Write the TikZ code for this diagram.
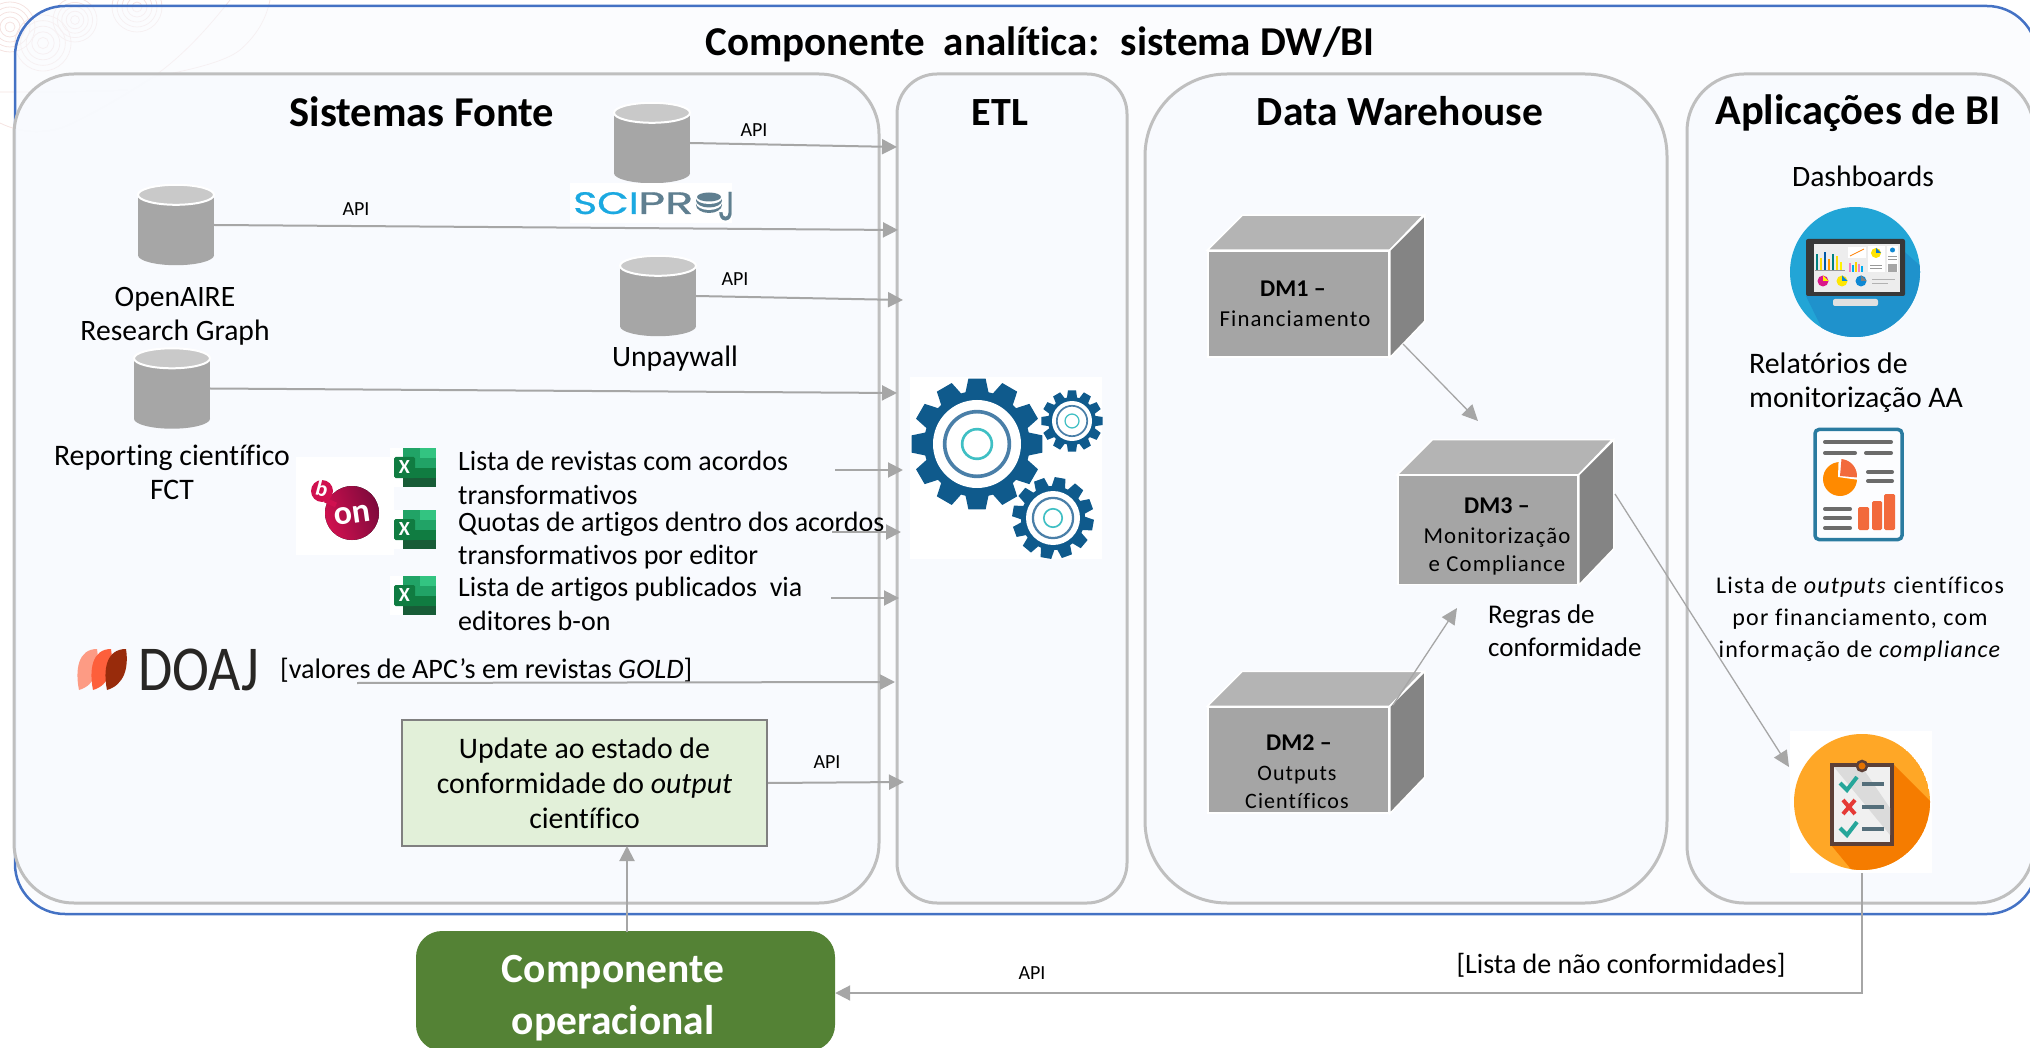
\documentclass[tikz,border=0pt]{standalone}
\usepackage{fontspec}
\setmainfont{Carlito}[Ligatures=NoCommon]
\newfontfamily\trk[LetterSpace=5,Ligatures=NoCommon]{Carlito}
\newfontfamily\scifont[FakeBold=0.7]{Poppins}
\usetikzlibrary{arrows.meta,calc}
\definecolor{panelbg}{HTML}{F8FAFE}
\definecolor{outerblue}{HTML}{4472C4}
\definecolor{panelgray}{HTML}{BFBFBF}
\definecolor{arrowgray}{HTML}{A6A6A6}
\definecolor{cylbody}{HTML}{A6A6A6}
\definecolor{cyltop}{HTML}{C9C9C9}
\definecolor{gearblue}{HTML}{0F5A8C}
\definecolor{gearring}{HTML}{4A7FA8}
\definecolor{gearteal}{HTML}{3FBFC4}
\definecolor{dmfront}{HTML}{A5A5A5}
\definecolor{dmtop}{HTML}{B4B4B4}
\definecolor{dmside}{HTML}{848484}
\definecolor{xlA}{HTML}{21A366}
\definecolor{xlB}{HTML}{33C481}
\definecolor{xlC}{HTML}{107C41}
\definecolor{xlD}{HTML}{185C37}
\definecolor{xlE}{HTML}{107C41}
\definecolor{doajA}{HTML}{FD9B84}
\definecolor{doajB}{HTML}{FD5F3B}
\definecolor{doajC}{HTML}{982B0B}
\definecolor{doajT}{HTML}{282624}
\definecolor{updategreen}{HTML}{E2F0D9}
\definecolor{compgreen}{HTML}{548235}
\definecolor{dashblue}{HTML}{22A5D6}
\definecolor{dashdark}{HTML}{1F92CC}
\definecolor{reportblue}{HTML}{2A7BA0}
\definecolor{reportred}{HTML}{F26A3C}
\definecolor{clipA}{HTML}{FFA726}
\definecolor{clipB}{HTML}{F57C00}
\definecolor{clipBr}{HTML}{5D4037}
\definecolor{clipDash}{HTML}{546E7A}
\definecolor{checkteal}{HTML}{26A69A}
\definecolor{checkred}{HTML}{E53935}
\definecolor{boncol}{HTML}{D0104F}
\definecolor{bondark}{HTML}{7E0A3C}
\definecolor{scicyan}{HTML}{1BA9E1}
\definecolor{scigray}{HTML}{5F7F90}
\definecolor{wmark}{HTML}{F5E3E1}
\newcommand\fsz[2]{\fontsize{#1}{#2}\selectfont}
\tikzset{
  panel/.style={draw=panelgray,line width=3pt,fill=panelbg,fill opacity=0.92},
  conn/.style={draw=arrowgray,line width=2pt,-{Triangle[length=15pt,width=15pt]}},
  thinconn/.style={draw=arrowgray,line width=1.3pt,-{Triangle[length=16pt,width=15pt]}},
  txt/.style={inner sep=0pt,text=black,align=center},
  ltxt/.style={inner sep=0pt,text=black,align=left,anchor=west},
  cylnode/.style={inner sep=0pt,minimum width=76pt,minimum height=80pt},
  dmface/.style={inner sep=0pt,fill=dmfront,draw=white,line width=1.5pt},
}
\newcommand\dbcyl[3]{%
  \node[cylnode] (#1) at (#2,#3) {};
  \fill[cylbody] ([yshift=-10pt]#1.north west) rectangle ([yshift=10pt]#1.south east);
  \fill[cylbody] ([yshift=10pt]#1.south) ellipse [x radius=38pt,y radius=10pt];
  \draw[white,fill=cyltop,line width=2pt] ([yshift=-10pt]#1.north) ellipse [x radius=38pt,y radius=10pt];
}
\newcommand\dmbox[5]{% name cx cy w h
  \node[dmface,minimum width=#4pt,minimum height=#5pt] (#1) at (#2,#3) {};
  \draw[white,line width=1.5pt,fill=dmtop] (#1.north west) -- ++(35,-35) -- ++(#4,0) -- (#1.north east) -- cycle;
  \draw[white,line width=1.5pt,fill=dmside] (#1.north east) -- ++(35,-35) -- ++(0,#5) -- (#1.south east) -- cycle;
}
\newcommand\gear[6]{% cx cy R root white rot
  \begin{scope}[shift={(#1,#2)}]
    \fill[gearblue] (0,0) circle (#4pt);
    \foreach \a in {0,30,...,330}{
      \fill[gearblue] (\a+#6-13:#4-1) -- (\a+#6-7.5:#3) -- (\a+#6+7.5:#3) -- (\a+#6+13:#4-1) -- cycle;
    }
    \fill[white] (0,0) circle (#5pt);
    \draw[gearring,line width={0.055*#3}] (0,0) circle ({0.49*#3});
    \draw[gearteal,line width={0.04*#3}] (0,0) circle ({0.225*#3});
  \end{scope}
}
\newcommand\xlicon[3]{% name x y(top)
  \fill[white] (#2,#3) rectangle (#2+46,#3+39);
  \fill[xlA] (#2+13,#3) rectangle (#2+46,#3+39);
  \fill[xlB] (#2+30,#3) rectangle (#2+46,#3+10);
  \fill[xlC] (#2+13,#3+20) rectangle (#2+46,#3+30);
  \fill[xlD] (#2+13,#3+30) rectangle (#2+46,#3+39);
  \fill[xlE,rounded corners=1.5pt] (#2+4,#3+9) rectangle (#2+25,#3+30);
  \node[inner sep=0pt,text=white,font=\bfseries\fsz{20}{20}] (#1) at (#2+14.5,#3+19.5) {X};
}
\newcommand\swirl[3]{%
  \foreach \r in {0.2,0.4,0.6,0.8,1}{\draw[wmark,line width=.8pt] (#1,#2) circle ({\r*#3});}
}
\begin{document}
\begin{tikzpicture}[x=1pt,y=-1pt]
\useasboundingbox (0,0) rectangle (2030,1048);
\clip (0,0) rectangle (2030,1048);
% watermark
\swirl{43}{43}{28}
\swirl{75}{20}{22}
\swirl{10}{27}{25}
\swirl{137}{7}{25}
\draw[wmark,line width=.8pt] (0,123) .. controls (22,134) and (50,135) .. (73,123) .. controls (100,110) and (130,92) .. (153,77) .. controls (180,58) and (205,32) .. (230,0);
\draw[wmark,line width=.8pt] (153,77) .. controls (190,70) and (225,62) .. (240,50) .. controls (256,36) and (266,20) .. (270,0);
\draw[wmark,line width=.8pt] (0,92) .. controls (40,92) and (90,92) .. (127,90);
% outer panel
\draw[draw=outerblue,line width=2.5pt,fill=panelbg,fill opacity=0.6,rounded corners=50pt] (15,6) rectangle (2037,914);
% panels
\draw[panel,rounded corners=60pt] (14,74) rectangle (879,903);
\draw[panel,rounded corners=40pt] (897,74) rectangle (1127,903);
\draw[panel,rounded corners=82pt] (1145,74) rectangle (1667,903);
\draw[panel,rounded corners=57pt] (1687,74) rectangle (2034,903);
% titles
\node[txt,font=\bfseries\fsz{41}{43}] (title) at (1040,44) {Componente \ analítica: \ sistema DW/BI};
\node[txt,font=\bfseries\fsz{42.5}{44}] (tfonte) at (422,112) {Sistemas Fonte};
\node[txt,font=\bfseries\fsz{40}{42}] (tetl) at (1000,113) {ETL};
\node[txt,font=\bfseries\fsz{41.5}{44}] (tdw) at (1400,111) {Data Warehouse};
\node[txt,font=\bfseries\fsz{42.5}{44}] (tbi) at (1858,113) {Aplicações de BI};
% cylinders
\dbcyl{sciproj}{652}{143}
\dbcyl{openaire}{176}{225}
\dbcyl{unpay}{658}{296}
\dbcyl{report}{172}{388.5}
% sciproj logo
\fill[white] (570,183) rectangle (732,223);
\node[inner sep=0pt,anchor=base west,text=scicyan,font=\scifont\fsz{31}{31}] (sciA) at (573,214) {\scalebox{1.32}[1]{SCI}};
\node[inner sep=0pt,anchor=base west,text=scigray,font=\scifont\fsz{31}{31}] (sciB) at (638,214) {\scalebox{1.5}[1]{PR}};
\begin{scope}
  \fill[scigray] (709,205) ellipse [x radius=13pt,y radius=8pt];
  \fill[white] (709,203) ellipse [x radius=13pt,y radius=7pt];
  \fill[scigray] (709,200.5) ellipse [x radius=13pt,y radius=7pt];
  \fill[white] (709,198) ellipse [x radius=13pt,y radius=6pt];
  \fill[scigray] (709,197) ellipse [x radius=12pt,y radius=4.5pt];
\end{scope}
\node[inner sep=0pt,anchor=base west,text=scigray,font=\scifont\fsz{31}{31}] (sciC) at (718,220) {\scalebox{1}[1.3]{J}};
% labels
\node[txt,font=\fsz{29.6}{34}] (lopen) at (175,316.5) {OpenAIRE\\Research Graph};
\node[txt,font=\fsz{29.6}{34}] (lunp) at (675,359) {Unpaywall};
\node[txt,font=\fsz{29.8}{34}] (lrep) at (172,472) {Reporting científico\\FCT};
\node[txt,font=\fsz{20}{22}] (api1) at (754,130) {API};
\node[txt,font=\fsz{20}{22}] (api2) at (356,209) {API};
\node[txt,font=\fsz{20}{22}] (api3) at (735,279) {API};
\node[txt,font=\fsz{20}{22}] (api4) at (827,762) {API};
\node[txt,font=\fsz{20}{22}] (api5) at (1032,973) {API};
% b-on
\fill[white] (296,457) rectangle (394,555);
\fill[left color=boncol,right color=bondark,shading angle=110] (352,513) ellipse [x radius=27pt,y radius=27pt];
\draw[boncol,line width=5pt] (325,500) -- (336,505);
\fill[boncol] (322,491) circle (11pt);
\node[inner sep=0pt,text=white,font=\bfseries\fsz{22}{22},rotate=-15] (bonb) at (322,489) {b};
\node[inner sep=0pt,text=white,font=\bfseries\fsz{34}{34},rotate=8] (bonon) at (352,515) {on};
% excel
\xlicon{xa}{390}{448}
\xlicon{xb}{390}{510}
\xlicon{xc}{390}{576}
\node[ltxt,font=\fsz{28}{33.5}] (la) at (458,478) {Lista de revistas com acordos\\transformativos};
\node[ltxt,font=\fsz{28}{33.5}] (lb) at (458,540.5) {Quotas de artigos dentro dos acordos\\transformativos por editor};
\node[ltxt,font=\fsz{28}{33.5}] (lc) at (458,604) {Lista de artigos publicados \ via\\editores b-on};
% doaj
\fill[doajA] (79,690) .. controls (75,670) and (78,649) .. (97,649) .. controls (100,668) and (96,685) .. (79,690) -- cycle;
\fill[doajB] (93,690) .. controls (89,670) and (92,649) .. (111,649) .. controls (114,668) and (110,685) .. (93,690) -- cycle;
\fill[doajC] (107,690) .. controls (103,670) and (106,649) .. (126,649) .. controls (129,668) and (124,685) .. (107,690) -- cycle;
\node[inner sep=0pt,text=doajT,font=\fsz{64}{64},anchor=base west] (doaj) at (138,690) {\scalebox{0.87}[1]{DOAJ}};
\node[ltxt,font=\fsz{28.2}{30}] (ldoaj) at (280,670) {[valores de APC’s em revistas \textit{GOLD}]};
% gears
\fill[white] (910,377) rectangle (1102,559);
\gear{977}{444}{66}{53}{44}{0}
\gear{1072}{421}{31}{24}{20}{0}
\gear{1053}{518}{41}{32}{27}{10}
% update box
\node[draw=black!50,line width=2pt,fill=updategreen,minimum width=365pt,minimum height=126pt,inner sep=0pt,text=black,align=center,font=\fsz{29.8}{35}] (update) at (584.5,783) {Update ao estado de\\conformidade do \textit{output}\\científico};
% component
\node[fill=compgreen,rounded corners=26pt,minimum width=419pt,minimum height=120pt,inner sep=0pt] (comp) at (625.5,991) {};
\node[txt,text=white,font=\bfseries\fsz{41.5}{52}] (tcomp) at (613,998) {Componente\\operacional};
% DM boxes
\dmbox{dma}{1298.5}{304}{181}{106}
\dmbox{dmc}{1488}{530}{180}{109}
\dmbox{dmb}{1298.5}{760}{181}{106}
\node[txt,font=\bfseries\fsz{24}{28}] (da1) at (1293,289) {DM1 –};
\node[txt,font=\trk\fsz{22.8}{28}] (da2) at (1295,319) {Financiamento};
\node[txt,font=\bfseries\fsz{24}{28}] (dc1) at (1497,506) {DM3 –};
\node[txt,font=\trk\fsz{22.8}{28}] (dc2) at (1497,551) {Monitorização\\e Compliance};
\node[txt,font=\bfseries\fsz{24}{28}] (db1) at (1299,743) {DM2 –};
\node[txt,font=\trk\fsz{22}{28}] (db2) at (1297,787) {Outputs\\Científicos};
\node[ltxt,font=\fsz{27}{33}] (regras) at (1488,631) {Regras de\\conformidade};
% BI texts
\node[txt,font=\fsz{29.6}{30}] (dash) at (1863,176) {Dashboards};
\node[ltxt,font=\fsz{29.8}{34}] (relat) at (1749,383) {Relatórios de\\monitorização AA};
\node[txt,font=\trk\fsz{24}{32}] (llist) at (1860,619.5) {Lista de \textit{outputs} científicos\\por financiamento, com\\informação de \textit{compliance}};
\node[txt,font=\fsz{28}{30}] (lnao) at (1621,965) {[Lista de não conformidades]};
% dashboard icon
\node[circle,fill=dashblue,minimum size=130pt,inner sep=0pt] (dashicon) at (1855,272) {};
\begin{scope}
  \clip (1855,272) circle (65pt);
  \fill[dashdark] (1890,239) -- (1925,270) -- (1930,345) -- (1830,345) -- (1806,296) -- cycle;
\end{scope}
\fill[black!78,rounded corners=2pt] (1806,239) rectangle (1905,296);
\fill[black!7] (1814,244) rectangle (1900,292);
\fill[black!12,rounded corners=2pt] (1833,299) rectangle (1878,306);
\foreach \x/\h/\c in {1816/16/teal,1820/12/yellow!80!orange,1824/18/teal!70!blue,1828/11/orange!80!yellow,1832/16/teal,1836/14/yellow!80!orange,1840/8/yellow}{
  \fill[\c] (\x,270) rectangle ++(2,-\h);
}
\draw[black!40,line width=.7pt] (1815,270.5) -- (1845,270.5);
\fill[white] (1848,247) rectangle (1866,258);
\draw[orange,line width=.8pt] (1850,256) -- (1856,253) -- (1864,249);
\foreach \x/\h/\c in {1849/9/magenta!50,1852/7/cyan,1855/10/yellow!70!orange,1858/8/magenta!50,1861/6/cyan}{
  \fill[\c] (\x,272) rectangle ++(2,-\h);
}
\fill[white] (1868,246) rectangle (1885,272);
\fill[yellow!85!orange] (1876,253) circle (5pt);
\fill[cyan!60!blue] (1876,253) -- (1876,248) -- (1881,253) -- cycle;
\draw[black!40,line width=.8pt] (1870,265) -- (1882,265) (1870,268) -- (1882,268);
\fill[white] (1887,246) rectangle (1898,272);
\fill[cyan!70!blue] (1892.5,250) circle (2.5pt);
\draw[black!40,line width=1pt] (1888,257) -- (1897,257) (1888,260) -- (1897,260);
\fill[black!35] (1888,264) rectangle (1897,272);
\foreach \x/\c/\d in {1823/magenta!90!black/yellow,1842/yellow!90!orange/cyan!70!blue,1861/cyan!70!blue/black!50}{
  \fill[\c] (\x,281) circle (5.5pt);
  \fill[\d] (\x,281) -- (\x,275.5) -- (\x+5.5,281) -- cycle;
}
\draw[black!30,line width=1pt] (1872,280) -- (1895,280) (1872,283.5) -- (1888,283.5);
% report icon
\node[draw=reportblue,line width=3.5pt,fill=white!60!panelbg,rounded corners=4pt,minimum width=87pt,minimum height=110pt,inner sep=0pt] (repicon) at (1858.5,484.5) {};
\begin{scope}[draw=black!58,line width=4pt,line cap=round]
  \draw (1825,442) -- (1891,442);
  \draw (1825,453) -- (1855,453);
  \draw (1866,453) -- (1891,453);
  \draw (1868,472) -- (1892,472);
  \draw (1868,481) -- (1892,481);
  \draw (1825,509) -- (1850,509);
  \draw (1825,518) -- (1850,518);
  \draw (1825,528) -- (1850,528);
\end{scope}
\fill[orange!80!yellow!90!red] (1840,479) circle (17pt);
\fill[white] (1838,477) -- plot[domain=-88:8,samples=10] ({1838+20*cos(\x)},{477+20*sin(\x)}) -- cycle;
\fill[reportred] (1840,476) -- plot[domain=-85:5,samples=10] ({1840+17*cos(\x)},{476+17*sin(\x)}) -- cycle;
\fill[reportred,rounded corners=1.5pt] (1858,507) rectangle (1869,530);
\fill[reportred,rounded corners=1.5pt] (1872,501) rectangle (1882,530);
\fill[reportred,rounded corners=1.5pt] (1884,494) rectangle (1895,530);
% clipboard icon
\node[fill=white,minimum width=142pt,minimum height=142pt,inner sep=0pt] (check) at (1861,802) {};
\begin{scope}
  \clip (1862,802) circle (68pt);
  \fill[clipA] (1862,802) circle (68pt);
  \fill[clipB] (1893,764) -- (1940,811) -- (1940,880) -- (1860,880) -- (1831,845) -- cycle;
\end{scope}
\draw[clipBr,line width=3.5pt,fill=black!6] (1832,765) rectangle (1892,844);
\fill[black!14] (1834,767) -- (1862,767) -- (1890,808) -- (1890,835) -- cycle;
\draw[clipBr,line width=2.5pt,fill=orange!90!black] (1862,766) circle (5pt);
\foreach \y in {784,807,829}{\draw[clipDash,line width=3.5pt] (1862,\y) -- (1884,\y);}
\foreach \y in {784,829}{\draw[checkteal,line width=4pt] (1840,\y-1) -- (1847,\y+6) -- (1857,\y-7);}
\draw[checkred,line width=4pt] (1843,800) -- (1855,814) (1855,800) -- (1843,814);
% connector anchors
\coordinate (e1) at (897,147);
\coordinate (e2) at (898,230);
\coordinate (e3) at (903,300);
\coordinate (e4) at (897,393);
\coordinate (sa) at (835,470); \coordinate (ea) at (903,470);
\coordinate (sb) at (832,532); \coordinate (eb) at (901,532);
\coordinate (sc) at (831,598); \coordinate (ec) at (899,598);
\coordinate (sd) at (357,683); \coordinate (ed) at (895,682);
\coordinate (eu) at (904,782);
\coordinate (ucomp) at (627,932); \coordinate (uupd) at (627,846);
\coordinate (a1) at (1403,344); \coordinate (a3a) at (1478,421);
\coordinate (b1) at (1393,705); \coordinate (a3b) at (1457,608);
\coordinate (c1) at (1615,494); \coordinate (chk) at (1789,767);
\coordinate (chkb) at (1862,873); \coordinate (corner) at (1862,993);
\draw[conn] (sciproj.east) -- (e1);
\draw[conn] (openaire.east) -- (e2);
\draw[conn] (unpay.east) -- (e3);
\draw[conn] (report.east) -- (e4);
\draw[conn] (sa) -- (ea);
\draw[conn] (sb) -- (eb);
\draw[conn] (sc) -- (ec);
\draw[conn] (sd) -- (ed);
\draw[conn] (update.east) -- (eu);
\draw[conn] (ucomp) -- (uupd);
\draw[thinconn] (a1) -- (a3a);
\draw[thinconn] (b1) -- (a3b);
\draw[thinconn] (c1) -- (chk);
\draw[conn] (chkb) -- (corner) -- (comp.east |- corner);
\end{tikzpicture}
\end{document}
